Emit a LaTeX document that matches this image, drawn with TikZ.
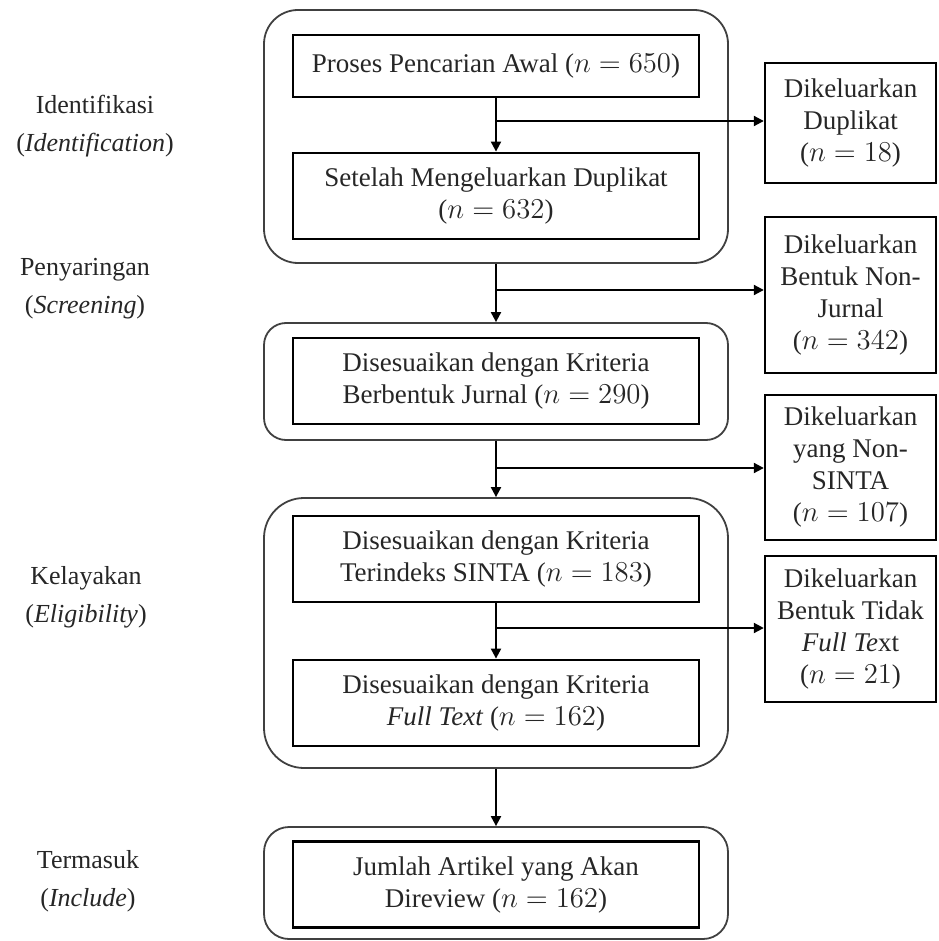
\documentclass[tikz,border=0pt]{standalone}
\usepackage{fontspec}
\setmainfont{Liberation Serif}
\usetikzlibrary{arrows.meta,positioning}
\tikzset{
  kotak/.style={draw,line width=1.4pt,minimum width=203pt,minimum height=43pt,align=center,inner sep=0pt},
  keluar/.style={draw,line width=1.2pt,minimum width=85.5pt,align=center,inner sep=0pt},
  grup/.style={draw=black!75,line width=0.9pt,minimum width=232pt},
  tahap/.style={align=center,font=\fontsize{13}{19}\selectfont},
  panah/.style={line width=1pt,-{Triangle[length=5pt,width=5pt]}},
}
\begin{document}
\begin{tikzpicture}[x=0.5pt,y=-0.5pt,font=\fontsize{13.5}{16}\selectfont,text=black!85]
  \useasboundingbox (0,0) rectangle (938,941);
  % kelompok tahap
  \node[grup,rounded corners=17pt,minimum height=126.5pt] (g1) at (496,136.5) {};
  \node[grup,rounded corners=11pt,minimum height=58.5pt] (g2) at (496,381.5) {};
  \node[grup,rounded corners=20pt,minimum height=135pt] (g3) at (496,633) {};
  \node[grup,rounded corners=12.5pt,minimum height=56pt] (g4) at (496,883) {};
  % label tahap
  \node[tahap] (t1) at (95,126) {Identifikasi\\(\textit{Identification})};
  \node[tahap] (t2) at (85,288.5) {Penyaringan\\(\textit{Screening})};
  \node[tahap] (t3) at (86,597.5) {Kelayakan\\(\textit{Eligibility})};
  \node[tahap] (t4) at (88,881) {Termasuk\\(\textit{Include})};
  % kotak utama
  \node[kotak,minimum height=31pt] (k1) at (496,66) {Proses Pencarian Awal ($n = 650$)};
  \node[kotak] (k2) at (496,196) {Setelah Mengeluarkan Duplikat\\($n = 632$)};
  \node[kotak] (k3) at (496,381) {Disesuaikan dengan Kriteria\\Berbentuk Jurnal ($n = 290$)};
  \node[kotak] (k4) at (496,559) {Disesuaikan dengan Kriteria\\Terindeks SINTA ($n = 183$)};
  \node[kotak] (k5) at (496,703) {Disesuaikan dengan Kriteria\\\textit{Full Text} ($n = 162$)};
  \node[kotak] (k6) at (496,884.5) {Jumlah Artikel yang Akan\\Direview ($n = 162$)};
  % kotak dikeluarkan
  \node[keluar,minimum height=60pt] (d1) at (850.5,123) {Dikeluarkan\\Duplikat\\($n = 18$)};
  \node[keluar,minimum height=78pt] (d2) at (850.5,295) {Dikeluarkan\\Bentuk Non-\\Jurnal\\($n = 342$)};
  \node[keluar,minimum height=72.5pt] (d3) at (850.5,467.5) {Dikeluarkan\\yang Non-\\SINTA\\($n = 107$)};
  \node[keluar,minimum height=73pt] (d4) at (850.5,629) {Dikeluarkan\\Bentuk Tidak\\\textit{Full Te}xt\\($n = 21$)};
  % titik cabang
  \coordinate (c1) at (496,121);
  \coordinate (c2) at (496,290);
  \coordinate (c3) at (496,468);
  \coordinate (c4) at (496,628);
  % panah
  \draw[panah] (k1) -- (k2);
  \draw[panah] (g1) -- (g2);
  \draw[panah] (g2) -- (g3);
  \draw[panah] (k4) -- (k5);
  \draw[panah] (g3) -- (g4);
  \draw[panah] (c1) -- (c1 -| d1.west);
  \draw[panah] (c2) -- (c2 -| d2.west);
  \draw[panah] (c3) -- (c3 -| d3.west);
  \draw[panah] (c4) -- (c4 -| d4.west);
\end{tikzpicture}
\end{document}
